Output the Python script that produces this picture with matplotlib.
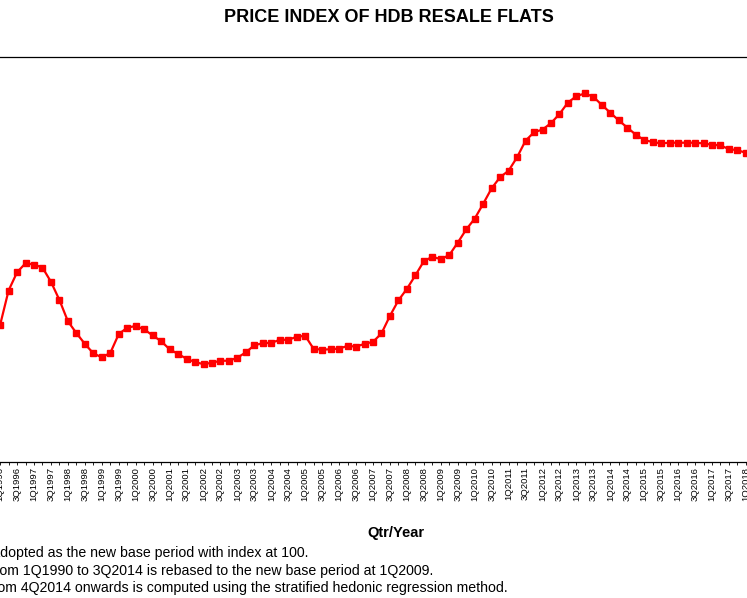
import matplotlib
matplotlib.use('Agg')
import matplotlib.pyplot as plt

# quarterly price index, 4Q1995 .. 2Q2018 (1Q2009 = 100)
start_year, start_q = 1995, 4
index_vals = [
    74.0,                                    # 4Q1995 (off the left edge, estimate)
    80.6, 90.8, 96.2, 98.9,                  # 1996
    98.5, 97.6, 93.4, 88.0,                  # 1997
    81.7, 78.2, 75.0, 72.2,                  # 1998
    71.0, 72.3, 77.9, 79.8,                  # 1999
    80.3, 79.3, 77.5, 75.8,                  # 2000
    73.4, 72.0, 70.6, 69.6,                  # 2001
    69.0, 69.4, 70.0, 70.0,                  # 2002
    70.9, 72.5, 74.6, 75.2,                  # 2003
    75.3, 76.2, 76.2, 77.1,                  # 2004
    77.4, 73.5, 73.3, 73.4,                  # 2005
    73.6, 74.4, 74.2, 75.0,                  # 2006
    75.6, 78.1, 83.3, 87.9,                  # 2007
    91.3, 95.3, 99.5, 100.8,                 # 2008
    100.1, 101.3, 105.0, 108.9,              # 2009
    112.1, 116.5, 121.1, 124.4,              # 2010
    126.3, 130.3, 135.2, 137.7,              # 2011
    138.5, 140.4, 143.1, 146.5,              # 2012
    148.4, 149.2, 148.2, 145.8,              # 2013
    143.5, 141.2, 139.1, 137.0,              # 2014
    135.4, 134.8, 134.4, 134.6,              # 2015
    134.6, 134.6, 134.6, 134.4,              # 2016
    134.0, 133.8, 132.7, 132.4,              # 2017
    131.6, 131.4,                            # 2018
]

title = 'PRICE INDEX OF HDB RESALE FLATS'
xlabel = 'Qtr/Year'
notes = [
    '1Q2009 is adopted as the new base period with index at 100.',
    'Index from 1Q1990 to 3Q2014 is rebased to the new base period at 1Q2009.',
    'Index from 4Q2014 onwards is computed using the stratified hedonic regression method.',
]
note_ends = [308, 433, 508]   # right end of each note line, px

quarters = []
y, q = start_year, start_q
for v in index_vals:
    quarters.append('%dQ%d' % (q, y))
    q += 1
    if q > 4:
        q = 1
        y += 1

plt.rcParams['font.family'] = ['Liberation Sans', 'DejaVu Sans']

W, H = 747, 598
fig = plt.figure(figsize=(W / 100, H / 100), dpi=100)

# axes is wider than the picture (the chart is a crop)
px_q = 8.475              # px per quarter
x_first = 0.1 - px_q      # px of the first quarter (4Q1995)
lo, hi = -7, 99
left_px = x_first + px_q * lo
right_px = x_first + px_q * hi
ax = fig.add_axes([left_px / W, (H - 462) / H, (right_px - left_px) / W, (462 - 57) / H])

xs = list(range(len(index_vals)))
ax.plot(xs, index_vals, color='#ff0000', lw=1.6, marker='s', ms=4.6,
        mec='#ff0000', mfc='#ff0000', clip_on=False)

ax.set_xlim(lo, hi)
ax.set_ylim(40, 160)
ax.set_yticks([])
ax.set_xticks(xs)
ax.set_xticklabels([s if s[0] in '13' else '' for s in quarters],
                   rotation=90, fontsize=6.8)
ax.tick_params(axis='x', direction='out', length=2.5, width=0.6, pad=1)
for side in ['left', 'right']:
    ax.spines[side].set_visible(False)
for side in ['top', 'bottom']:
    ax.spines[side].set_linewidth(0.9)

fig.text(389 / W, 1 - 17 / H, title, ha='center', va='center',
         fontsize=13, fontweight='bold')
fig.text(396 / W, 1 - 533 / H, xlabel, ha='center', va='center',
         fontsize=10.5, fontweight='bold')

for i, (t, e) in enumerate(zip(notes, note_ends)):
    fig.text(e / W, 1 - (553 + 17.5 * i) / H, t, ha='right', va='center',
             fontsize=10.2)

fig.savefig('out.png', dpi=100)
